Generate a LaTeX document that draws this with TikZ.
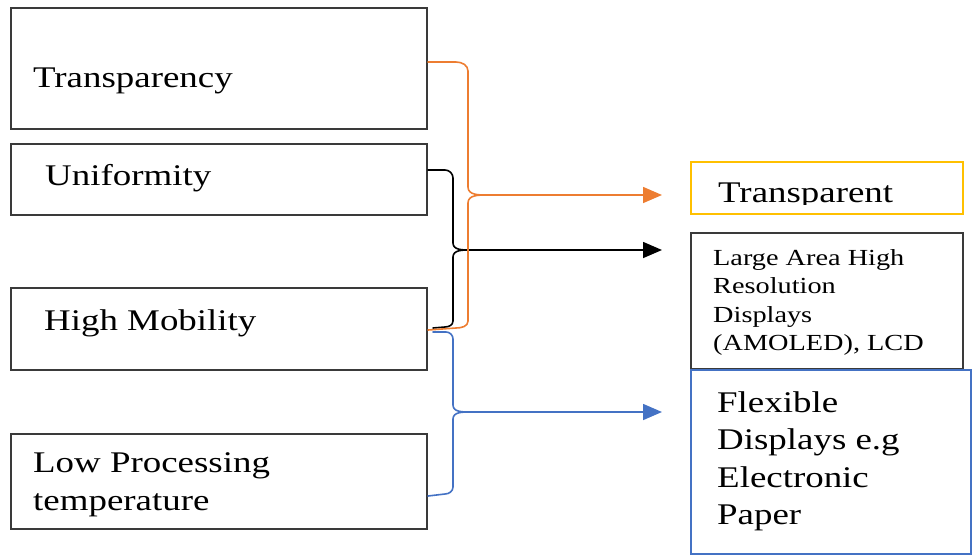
\documentclass[tikz,border=0pt]{standalone}
\usepackage{fontspec}
\setmainfont{Liberation Serif}[FakeStretch=1.23]
\usetikzlibrary{arrows.meta}
\definecolor{corange}{HTML}{ED7D31}
\definecolor{cblue}{HTML}{4472C4}
\definecolor{cyellow}{HTML}{FFC000}
\definecolor{cbox}{HTML}{3A3A3A}
\tikzset{
  box/.style={draw=cbox, line width=2pt, rectangle, inner sep=0pt, anchor=north west},
  big/.style={inner sep=0pt, font=\fontsize{30}{37.5}\selectfont, align=left},
  small/.style={inner sep=0pt, font=\fontsize{23}{28.5}\selectfont, align=left},
  conn/.style={line width=1.6pt, line cap=round, line join=round},
  tip/.style={-{Triangle[length=19pt,width=16pt]}},
}
\begin{document}
\begin{tikzpicture}[x=1pt,y=-1pt]
\useasboundingbox (0,0) rectangle (976,554);
% left boxes
\node[box, minimum width=416pt, minimum height=121pt] (b1) at (10,7) {};
\node[box, minimum width=416pt, minimum height=71pt] (b2) at (10,143) {};
\node[box, minimum width=416pt, minimum height=82pt] (b3) at (10,287) {};
\node[box, minimum width=416pt, minimum height=95pt] (b4) at (10,433) {};
\node[big, anchor=base west] (t1) at (33,87) {Transparency};
\node[big, anchor=base west] (t2) at (45,185) {Uniformity};
\node[big, anchor=base west] (t3) at (44,330) {High Mobility};
\node[big, anchor=north west] (t4) at (33,452.5) {Low Processing\\temperature};
% right boxes
\node[box, draw=cyellow, minimum width=272pt, minimum height=52pt] (r1) at (690,161) {};
\node[box, minimum width=272pt, minimum height=136pt] (r2) at (690,232) {};
\node[box, draw=cblue, minimum width=280pt, minimum height=184pt] (r3) at (690,369) {};
\begin{scope}
\clip (690,161) rectangle (962,204);
\node[big, anchor=base west] (s1) at (718,202) {Transparent};
\end{scope}
\node[small, anchor=north west] (s2) at (713,249) {Large Area High\\Resolution\\Displays\\(AMOLED), LCD};
\node[big, anchor=north west] (s3) at (717,391) {Flexible\\Displays e.g\\Electronic\\Paper};
% coordinates
\coordinate (o1) at (b1.east |- 0,62);
\coordinate (o2) at (b3.east |- 0,330);
\coordinate (k1) at (b2.east |- 0,170);
\coordinate (k2) at (433,328);
\coordinate (u1) at (433,332);
\coordinate (u2) at (b4.east |- 0,496);
\coordinate (oc) at (488,195);
\coordinate (kc) at (470,250);
\coordinate (uc) at (470,412);
\coordinate (oa) at (662,195);
\coordinate (ka) at (662,250);
\coordinate (ua) at (662,412);
% black
\draw[conn, black] (k1) -- (445,170) to[out=0,in=90] (453,178) -- (453,243) to[out=-90,in=180] (kc)
  to[out=180,in=90] (453,257) -- (453,321) to[out=-90,in=0] (445,327) -- (k2);
\draw[conn, black, tip] (kc) -- (ka);
% blue
\draw[conn, cblue] (u1) -- (446,332) to[out=0,in=90] (453,339) -- (453,405) to[out=-90,in=180] (uc)
  to[out=180,in=90] (453,419) -- (453,487) to[out=-90,in=0] (445,494) -- (u2);
\draw[conn, cblue, tip] (uc) -- (ua);
% orange
\draw[conn, corange] (o1) -- (456,62) to[out=0,in=90] (468,71) -- (468,187) to[out=-90,in=180] (oc)
  to[out=180,in=90] (468,203) -- (468,321) to[out=-90,in=0] (456,328) -- (o2);
\draw[conn, corange, tip] (oc) -- (oa);
\end{tikzpicture}
\end{document}
